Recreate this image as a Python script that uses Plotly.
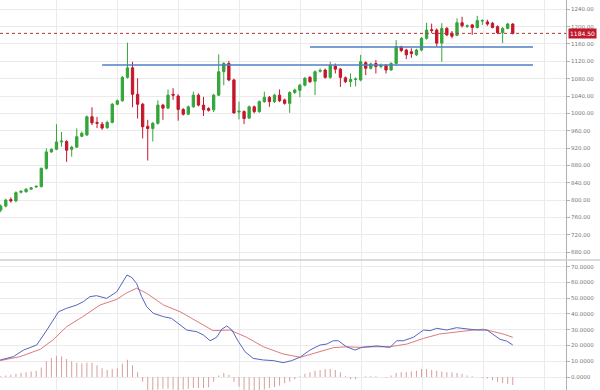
import plotly.graph_objects as go

# ---------------- data ----------------
candle_idx = list(range(102))
opens = [777, 786, 801, 798, 818, 819, 825, 830, 831, 873,
         911, 917, 934, 935, 917, 922, 947, 950, 992, 979,
         975, 967, 979, 1021, 1029, 1083, 1105, 1044, 1021, 970,
         965, 977, 1019, 1012, 1044, 1040, 1009, 998, 1015, 1042,
         1019, 1011, 1008, 1042, 1096, 1115, 1077, 1003, 1004, 989,
         1015, 1004, 1027, 1037, 1027, 1042, 1031, 1023, 1048, 1053,
         1065, 1083, 1074, 1097, 1100, 1083, 1109, 1102, 1082, 1073,
         1078, 1077, 1117, 1104, 1115, 1108, 1111, 1100, 1115, 1153,
         1146, 1142, 1135, 1146, 1173, 1193, 1192, 1162, 1196, 1185,
         1180, 1209, 1201, 1204, 1198, 1213, 1211, 1208, 1200, 1186,
         1196, 1206]
highs = [790, 803, 806, 820, 823, 827, 830, 834, 875, 919,
         919, 975, 957, 938, 925, 965, 958, 995, 1014, 992,
         980, 983, 1024, 1032, 1086, 1163, 1119, 1081, 1024, 985,
         980, 1030, 1022, 1055, 1058, 1044, 1012, 1018, 1050, 1046,
         1038, 1014, 1045, 1136, 1118, 1121, 1080, 1027, 1007, 1018,
         1018, 1030, 1050, 1040, 1045, 1055, 1034, 1051, 1057, 1068,
         1084, 1086, 1099, 1104, 1103, 1119, 1115, 1105, 1085, 1092,
         1083, 1135, 1120, 1117, 1123, 1115, 1114, 1118, 1169, 1156,
         1149, 1150, 1149, 1176, 1209, 1207, 1196, 1208, 1199, 1190,
         1219, 1223, 1205, 1206, 1225, 1217, 1216, 1211, 1203, 1199,
         1209, 1208]
lows = [772, 783, 794, 795, 815, 817, 824, 828, 829, 870,
        909, 915, 923, 888, 900, 920, 945, 948, 973, 966,
        962, 964, 977, 1019, 1027, 1080, 1014, 988, 942, 891,
        935, 974, 985, 1010, 1031, 983, 995, 996, 1013, 1016,
        994, 1004, 1003, 1040, 1065, 1074, 999, 986, 975, 987,
        1000, 1001, 1024, 1015, 1024, 1026, 1020, 1001, 1045, 1037,
        1062, 1070, 1042, 1094, 1080, 1080, 1092, 1061, 1070, 1061,
        1062, 1074, 1088, 1101, 1092, 1104, 1092, 1098, 1112, 1141,
        1125, 1128, 1132, 1143, 1170, 1185, 1154, 1119, 1178, 1173,
        1178, 1198, 1197, 1181, 1196, 1204, 1202, 1196, 1183, 1162,
        1194, 1182]
closes = [786, 800, 798, 817, 820, 825, 828, 831.5, 873, 911,
          917, 934, 936, 915, 922, 946, 954, 992, 978, 977,
          966, 979, 1021, 1029, 1083, 1105, 1044, 1021, 969, 965,
          977, 1019, 1012, 1042, 1042, 1009, 998, 1015, 1042, 1019,
          1008, 1007, 1042, 1096, 1115, 1077, 1001, 1005, 988, 1015,
          1004, 1027, 1037, 1027, 1042, 1029, 1023, 1048, 1054, 1065,
          1081, 1073, 1096, 1099, 1083, 1111, 1102, 1083, 1073, 1078,
          1079, 1119, 1104, 1114, 1108, 1111, 1100, 1115, 1154, 1145,
          1135, 1138, 1146, 1173, 1192, 1191, 1162, 1196, 1181, 1178,
          1209, 1202, 1202, 1198, 1214, 1214, 1206, 1198, 1186, 1196,
          1206, 1184.5]

last_price = 1184.50
support_levels = [1111.5, 1153]
support_start = [20, 61]
support_end = [105, 105]

macd_x = [-0.1, 2.5, 4.5, 7.1, 9.1, 11.4, 13, 15, 16.3, 17.6, 18.9, 20.9, 22.9,
          24.9, 25.8, 26.8, 27.8, 28.8, 30.1, 32.1, 33.7, 35.4, 36.7, 38.7, 40,
          41.3, 42.6, 43.6, 44.6, 45.6, 46.9, 48.2, 49.8, 51.8, 53.8, 55.7, 57.4,
          59.1, 61, 63, 64.3, 65.6, 66.6, 68.2, 69.9, 71.2, 72.8, 74.2, 76.8,
          78.1, 79.4, 81.4, 83.4, 84.7, 86, 88, 89.9, 91.9, 93.9, 95.9, 97.2,
          98.5, 99.8, 101]
macd_y = [10.8, 12.9, 17.1, 20.3, 29.8, 41.4, 43.6, 45.7, 47.8, 51, 51.6, 49.9, 54.1,
          64.7, 63.3, 59.4, 51, 44.6, 40.4, 38.3, 37.2, 33, 29.8, 28.7, 26.6,
          23, 25.2, 30.3, 32.4, 29.8, 22.4, 16, 11.8, 10.8, 10.4, 9.1, 10.4,
          12.7, 17.1, 20.3, 20.9, 23, 23, 19.2, 17.1, 18.8, 19.2, 19.7, 18.8,
          23, 23, 25.2, 29.8, 29.4, 30.9, 29.8, 31.3, 30.6, 29.8, 29.8, 26.6,
          23.9, 22.8, 20.3]
signal_x = [-0.1, 3.8, 7.8, 10.3, 13, 16.2, 19.6, 22.9, 24.9, 26.8, 28.8, 32.1,
            35.4, 39.3, 41.9, 45.2, 48.5, 51.8, 55.7, 59.1, 63, 65.6, 68.2, 70.9,
            73.5, 76.8, 80.1, 83.4, 86.6, 89.9, 93.2, 95.2, 97.2, 99.1, 101]
signal_y = [10.4, 12.9, 17.6, 23.5, 31.9, 38.3, 45.7, 49.3, 53.5, 56.3, 53.1, 45.7,
            41.4, 34.5, 29.4, 29.8, 25.2, 19.2, 14.6, 12.5, 16, 18.6, 19.2, 18.8,
            19.2, 19.2, 20.9, 24.5, 27.3, 28.7, 29.8, 30.3, 28.7, 27.3, 25.2]
hist = [0.5, 1, 1.5, 2, 2.5, 3, 3.5, 4, 6, 10,
        12, 13.5, 13, 11.5, 10, 9, 8.5, 9, 9, 7.5,
        5.5, 4.5, 5, 5.5, 8.5, 11, 7.5, 3, -3, -8.5,
        -9, -8, -7.5, -7.5, -8, -8.5, -8, -7.5, -7, -7,
        -7, -6.5, -3, 1, 2.5, 1.5, -3, -6, -8.5, -10,
        -9.5, -9, -8, -7, -6.5, -5.5, -4, -3, -1.5, 0.5,
        2, 3, 4, 4.5, 5, 5, 4.5, 3, 0.5, -1.5,
        -1.5, 0, 0.5, 0.5, 0.5, 0, -0.5, 1, 2.5, 3,
        3, 3.5, 4, 5, 5, 4.5, 4, 3.5, 3, 3,
        2.5, 2, 1, 0.5, 0, -0.5, -1, -2, -3, -4,
        -4.5, -5]

price_ticks = list(range(680, 1241, 40))
macd_ticks = list(range(0, 71, 10))

# ---------------- style ----------------
GREEN = "#34a53a"
RED = "#c3172b"
BLUE = "#5565bf"
PINK = "#dd7b7b"
HISTC = "#d6a0a0"
GRID = "#ebebeb"
AXIS = "#b0b0b0"
TICKF = dict(family="DejaVu Sans", size=5.5, color="#777777")

fig = go.Figure()
fig.add_trace(go.Candlestick(
    x=candle_idx, open=opens, high=highs, low=lows, close=closes,
    increasing=dict(line=dict(color=GREEN, width=1), fillcolor=GREEN),
    decreasing=dict(line=dict(color=RED, width=1), fillcolor=RED),
    whiskerwidth=0, xaxis="x", yaxis="y", showlegend=False, hoverinfo="skip"))
fig.add_trace(go.Bar(
    x=candle_idx, y=hist, width=0.2,
    marker=dict(color=HISTC, line=dict(width=0)),
    xaxis="x2", yaxis="y2", showlegend=False, hoverinfo="skip"))
fig.add_trace(go.Scatter(
    x=signal_x, y=signal_y, mode="lines", line=dict(color=PINK, width=1),
    xaxis="x2", yaxis="y2", showlegend=False, hoverinfo="skip"))
fig.add_trace(go.Scatter(
    x=macd_x, y=macd_y, mode="lines", line=dict(color=BLUE, width=1),
    xaxis="x2", yaxis="y2", showlegend=False, hoverinfo="skip"))

split = 1 - 260 / 390
xcommon = dict(range=[-0.14, 111.5], showticklabels=False, showgrid=True,
               gridcolor=GRID, gridwidth=1, tick0=11.1, dtick=12.03,
               zeroline=False, showline=False, ticks="")
ycommon = dict(side="right", ticks="outside", ticklen=3, tickcolor=AXIS,
               showline=True, linecolor=AXIS, linewidth=1, gridcolor=GRID,
               zeroline=False, tickfont=TICKF, fixedrange=True)

fig.update_layout(
    width=600, height=390,
    margin=dict(l=0, r=34, t=0, b=0),
    paper_bgcolor="white", plot_bgcolor="white",
    boxgap=0.35,
    xaxis=dict(domain=[0, 1], anchor="y", rangeslider=dict(visible=False), **xcommon),
    xaxis2=dict(domain=[0, 1], anchor="y2", matches="x", **xcommon),
    yaxis=dict(domain=[split, 1], range=[661.6, 1261.5], tickvals=price_ticks,
               tickformat=".2f", **ycommon),
    yaxis2=dict(domain=[0, split], range=[-8.25, 74.25], tickvals=macd_ticks,
                tickformat=".4f", **ycommon),
    showlegend=False,
)

shapes = []
for lvl, s, e in zip(support_levels, support_start, support_end):
    shapes.append(dict(type="line", xref="x", yref="y", x0=s, x1=e, y0=lvl, y1=lvl,
                       line=dict(color="#4f7fc6", width=1.5)))
shapes.append(dict(type="line", xref="paper", yref="y", x0=0, x1=1,
                   y0=last_price, y1=last_price,
                   line=dict(color="#b8323a", width=1, dash="dot")))
shapes.append(dict(type="line", xref="paper", yref="paper", x0=0, x1=600 / 566,
                   y0=split, y1=split, line=dict(color="#cfcfcf", width=1.5)))
fig.update_layout(shapes=shapes)

fig.add_annotation(x=1, xref="paper", y=last_price, yref="y", xanchor="left",
                   xshift=2, text="%.2f" % last_price, showarrow=False,
                   bgcolor=RED, borderpad=1,
                   font=dict(family="DejaVu Sans", size=6, color="white"))

fig.write_html("out.html",
               config={"displayModeBar": False, "staticPlot": True},
               post_script="document.body.style.margin='0';document.body.style.padding='0';")
